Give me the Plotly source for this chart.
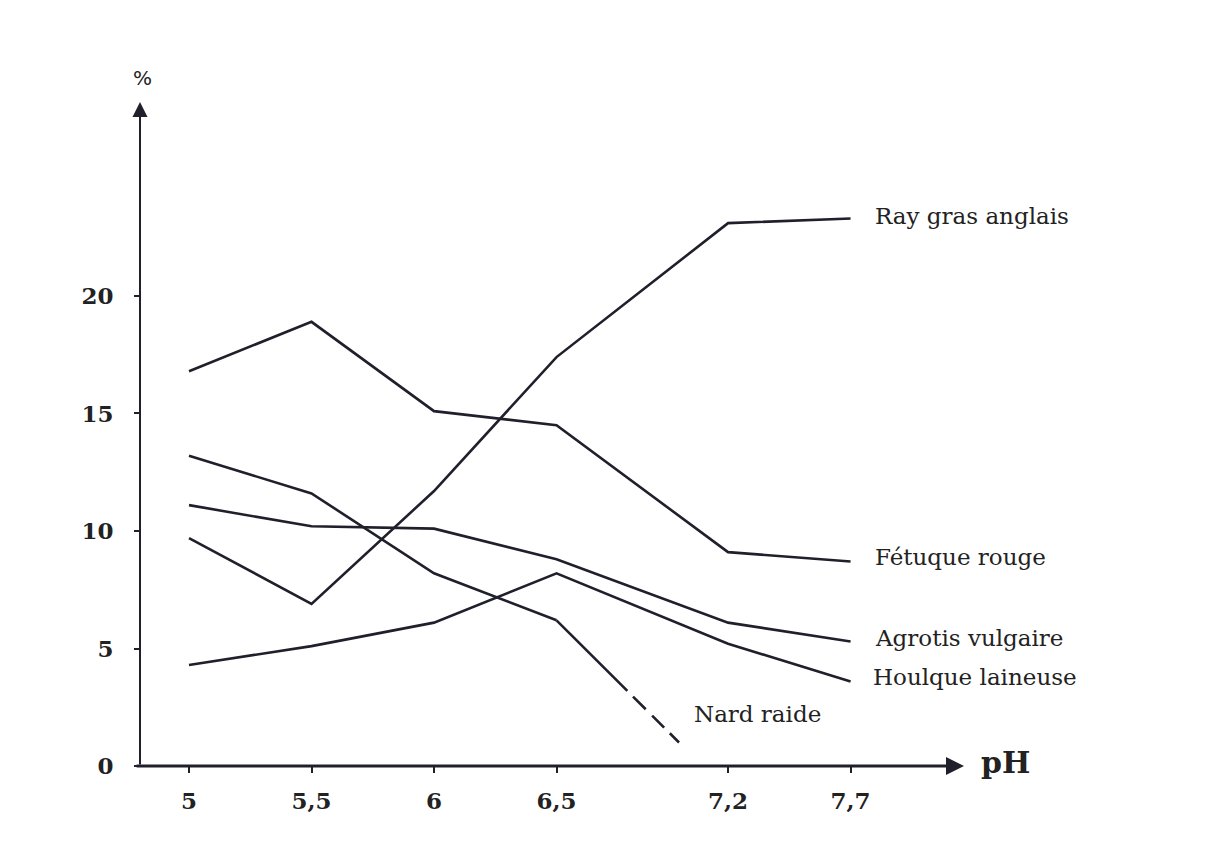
import plotly.graph_objects as go

# ---- data ----
ph_ticks = [5, 5.5, 6, 6.5, 7.2, 7.7]
ph_tick_labels = ["5", "5,5", "6", "6,5", "7,2", "7,7"]
y_ticks = [0, 5, 10, 15, 20]

ray_gras = [9.7, 6.9, 11.7, 17.4, 23.1, 23.3]
fetuque = [16.8, 18.9, 15.1, 14.5, 9.1, 8.7]
agrotis = [11.1, 10.2, 10.1, 8.8, 6.1, 5.3]
houlque = [4.3, 5.1, 6.1, 8.2, 5.2, 3.6]
nard_x = [5, 5.5, 6, 6.5]
nard = [13.2, 11.6, 8.2, 6.2]
nard_dash_x = [6.5, 7.0]
nard_dash = [6.2, 1.0]

series = [
    ("Ray gras anglais", ray_gras),
    ("Fétuque rouge", fetuque),
    ("Agrotis vulgaire", agrotis),
    ("Houlque laineuse", houlque),
]

LINE = "#20202c"
TXT = "#222222"
XR = [4.8, 8.163]
YR = [0, 28.34]
OFF = 8  # page body margin

fig = go.Figure()
for name, vals in series:
    fig.add_trace(go.Scatter(x=ph_ticks, y=vals, mode="lines", name=name,
                             line=dict(color=LINE, width=2.6), showlegend=False))
fig.add_trace(go.Scatter(x=nard_x, y=nard, mode="lines", name="Nard raide",
                         line=dict(color=LINE, width=2.6), showlegend=False))
fig.add_trace(go.Scatter(x=nard_dash_x, y=nard_dash, mode="lines", name="Nard raide (extrapolé)",
                         line=dict(color=LINE, width=2.6,
                                   dash="100px,8px,18px,9px,17px,8px,40px"),
                         showlegend=False))

# screen pixel (reference) -> paper coords for text placement
L, T, W, H = 140, 100, 824, 666
def px_x(px):
    return (px - L) / W
def px_y(py):
    return (T + H - py) / H

labels = [
    ("Ray gras anglais", 873, 216),
    ("Fétuque rouge", 873, 557),
    ("Agrotis vulgaire", 873, 638),
    ("Houlque laineuse", 871, 677),
    ("Nard raide", 692, 714),
]
annotations = []
for txt, lx, ly in labels:
    annotations.append(dict(x=px_x(lx), y=px_y(ly), xref="paper", yref="paper", text=txt,
                            showarrow=False, xanchor="left", yanchor="middle",
                            font=dict(family="DejaVu Serif", size=23, color=TXT)))

# axes with arrows
annotations.append(dict(x=XR[1], y=0, ax=4.78, ay=0, xref="x", yref="y",
                        axref="x", ayref="y", text="", showarrow=True,
                        arrowhead=2, arrowsize=1.2, arrowwidth=3, arrowcolor=LINE))
annotations.append(dict(x=XR[0], y=YR[0] + (T + H - 102) / H * (YR[1] - YR[0]),
                        ax=XR[0], ay=0, xref="x", yref="y",
                        axref="x", ayref="y", text="", showarrow=True,
                        arrowhead=2, arrowsize=1.5, arrowwidth=2, arrowcolor=LINE))
annotations.append(dict(x=px_x(142), y=px_y(78), xref="paper", yref="paper", text="%",
                        showarrow=False, xanchor="center", yanchor="middle",
                        font=dict(family="DejaVu Sans", size=20, color=TXT)))
annotations.append(dict(x=px_x(979), y=px_y(762), xref="paper", yref="paper", text="<b>pH</b>",
                        showarrow=False, xanchor="left", yanchor="middle",
                        font=dict(family="DejaVu Serif", size=30, color=TXT)))

fig.update_layout(
    width=1216, height=854,
    margin=dict(l=L - OFF, r=1216 - (L - OFF) - W, t=T - OFF, b=854 - (T - OFF) - H),
    paper_bgcolor="white", plot_bgcolor="white",
    annotations=annotations,
    xaxis=dict(range=XR, tickvals=ph_ticks, ticktext=ph_tick_labels,
               showgrid=False, zeroline=False, showline=False,
               ticks="outside", ticklen=6, tickwidth=1.5, tickcolor=LINE,
               ticklabelstandoff=8,
               tickfont=dict(family="DejaVu Serif", size=23, color=TXT, weight="bold")),
    yaxis=dict(range=YR, tickvals=y_ticks, ticktext=[str(v) for v in y_ticks],
               showgrid=False, zeroline=False, showline=False,
               ticks="outside", ticklen=5, tickwidth=1.5, tickcolor=LINE,
               ticklabelstandoff=16,
               tickfont=dict(family="DejaVu Serif", size=23, color=TXT, weight="bold")),
)

fig.write_html("out.html")
